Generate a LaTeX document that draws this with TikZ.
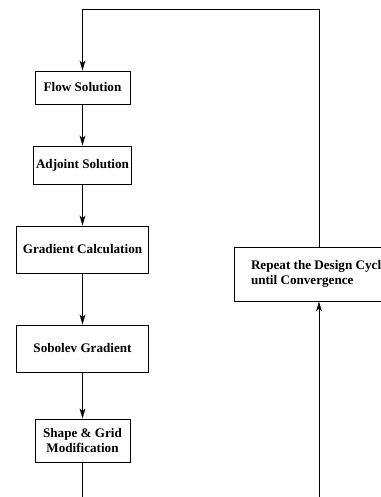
\documentclass[tikz,border=0pt]{standalone}
\usepackage{fontspec}
\setmainfont{Liberation Serif}
\usepackage{tikz}
\usetikzlibrary{arrows.meta}

\begin{document}
\begin{tikzpicture}[x=0.8pt, y=-0.8pt,
		stage/.style={draw, line width=0.7pt, align=center, inner sep=2pt,
			font=\fontsize{10.5}{11.5}\selectfont\bfseries},
		link/.style={line width=0.7pt, -{Stealth[length=8pt, width=4.6pt, inset=2.2pt]}},
		plain/.style={line width=0.7pt}]
			%%%%% START %%%%%
			
			\useasboundingbox (0, 0) rectangle (381, 497);
			\clip (0, 0) rectangle (381, 497);
			
			\node[stage, minimum width=76pt, minimum height=26.4pt] (flow) at (82.5, 87.5) {Flow Solution};
			\node[stage, minimum width=76pt, minimum height=30.4pt] (adjoint) at (82.5, 165) {Adjoint Solution};
			\node[stage, minimum width=105.6pt, minimum height=37.6pt] (gradcalc) at (82.5, 249.5) {Gradient Calculation};
			\node[stage, minimum width=105.6pt, minimum height=37.6pt] (sobolev) at (82.5, 348.5) {Sobolev Gradient};
			\node[stage, minimum width=76pt, minimum height=34.4pt] (shapegrid) at (82.5, 440.5) {Shape \& Grid\\Modification};
			
			\node[stage, align=left, minimum width=136pt, minimum height=43.2pt] (repeat) at (319, 274) {Repeat the Design Cycle\\until Convergence};
			
			\coordinate (loopL) at (82.5, 505);
			\coordinate (loopR) at (319, 505);
			\coordinate (loopTop) at (82.5, 9.5);
			
			\draw[link] (flow) -- (adjoint);
			\draw[link] (adjoint) -- (gradcalc);
			\draw[link] (gradcalc) -- (sobolev);
			\draw[link] (sobolev) -- (shapegrid);
			\draw[plain] (shapegrid) -- (loopL);
			
			\draw[link] (loopR) -- (repeat);
			\draw[link] (repeat.north) |- (loopTop) -- (flow.north);
			
			%%%%% END %%%%%
		\end{tikzpicture}
\end{document}
